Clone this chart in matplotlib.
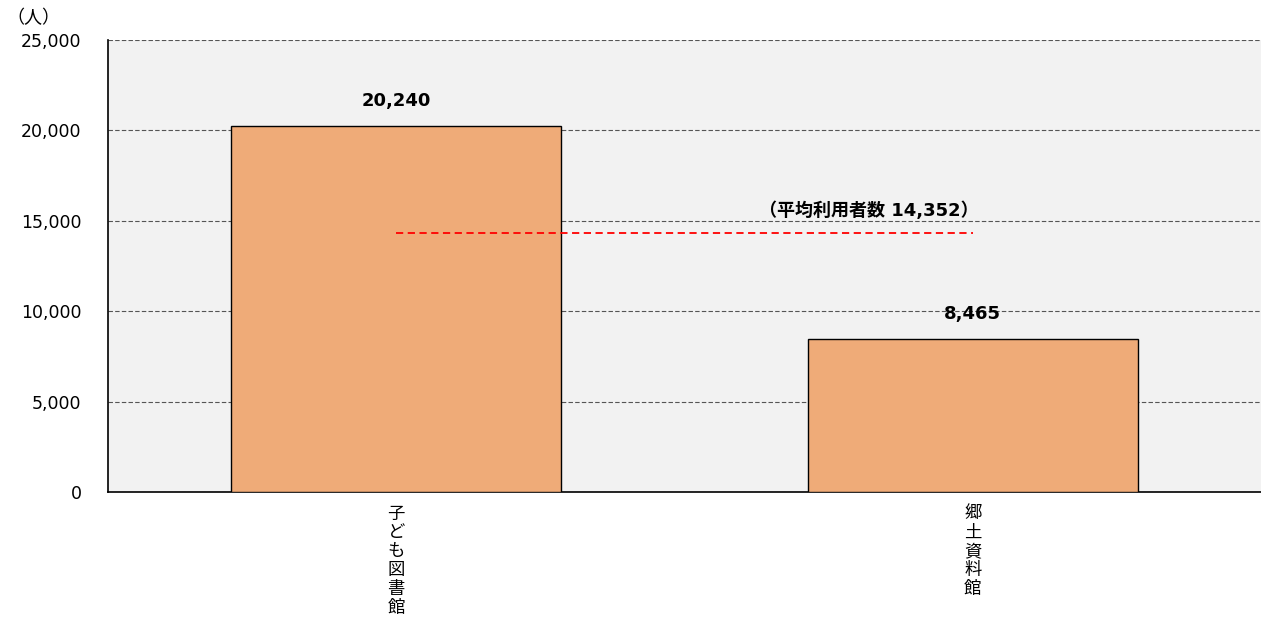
import matplotlib
matplotlib.use('Agg')
import matplotlib.pyplot as plt
from matplotlib.ticker import FuncFormatter, MultipleLocator

plt.rcParams['font.family'] = ['DejaVu Sans', 'Noto Sans CJK JP']

categories = ['子ども図書館', '郷土資料館']
users = [20240, 8465]
average = 14352
avg_label = '（平均利用者数 14,352）'
unit_label = '（人）'

fig = plt.figure(figsize=(12.61, 6.17), dpi=100)
ax = fig.add_axes([0.0856, 0.2026, 0.9144, 0.7326])
ax.set_facecolor('#f2f2f2')

x = list(range(len(categories)))
ax.bar(x, users, width=0.572, color='#efab78', edgecolor='black', linewidth=1.0, zorder=3)

for xi, v in zip(x, users):
    ax.text(xi, v + 1400, f'{v:,}', ha='center', va='center', fontsize=13,
            fontweight='bold', zorder=5)

ax.plot([x[0], x[-1]], [average, average], color='red', linestyle=(0, (4, 2.5)),
        linewidth=1.3, zorder=4)
ax.text(0.82, average + 1200, avg_label, ha='center', va='center', fontsize=13,
        fontweight='bold', zorder=5)

ax.set_xlim(-0.5, 1.5)
ax.set_ylim(0, 25000)
ax.yaxis.set_major_locator(MultipleLocator(5000))
ax.yaxis.set_major_formatter(FuncFormatter(lambda v, p: f'{int(v):,}'))
ax.grid(axis='y', color='#555555', linestyle=(0, (4, 2)), linewidth=0.8, zorder=1)
ax.set_axisbelow(True)

ax.set_xticks(x)
ax.set_xticklabels(['\n'.join(c) for c in categories], va='top', linespacing=1.07,
                   fontsize=12.5, family=['Noto Sans CJK JP'])
ax.tick_params(axis='x', length=0, pad=9)
ax.tick_params(axis='y', length=0, pad=19, labelsize=12.5)

ax.spines['right'].set_visible(False)
ax.spines['top'].set_visible(False)
ax.spines['left'].set_linewidth(1.2)
ax.spines['bottom'].set_linewidth(1.2)

fig.text(0.005, 0.97, unit_label, ha='left', va='center', fontsize=13,
         family=['Noto Sans CJK JP'])

fig.savefig('out.png', dpi=100, facecolor='white')
